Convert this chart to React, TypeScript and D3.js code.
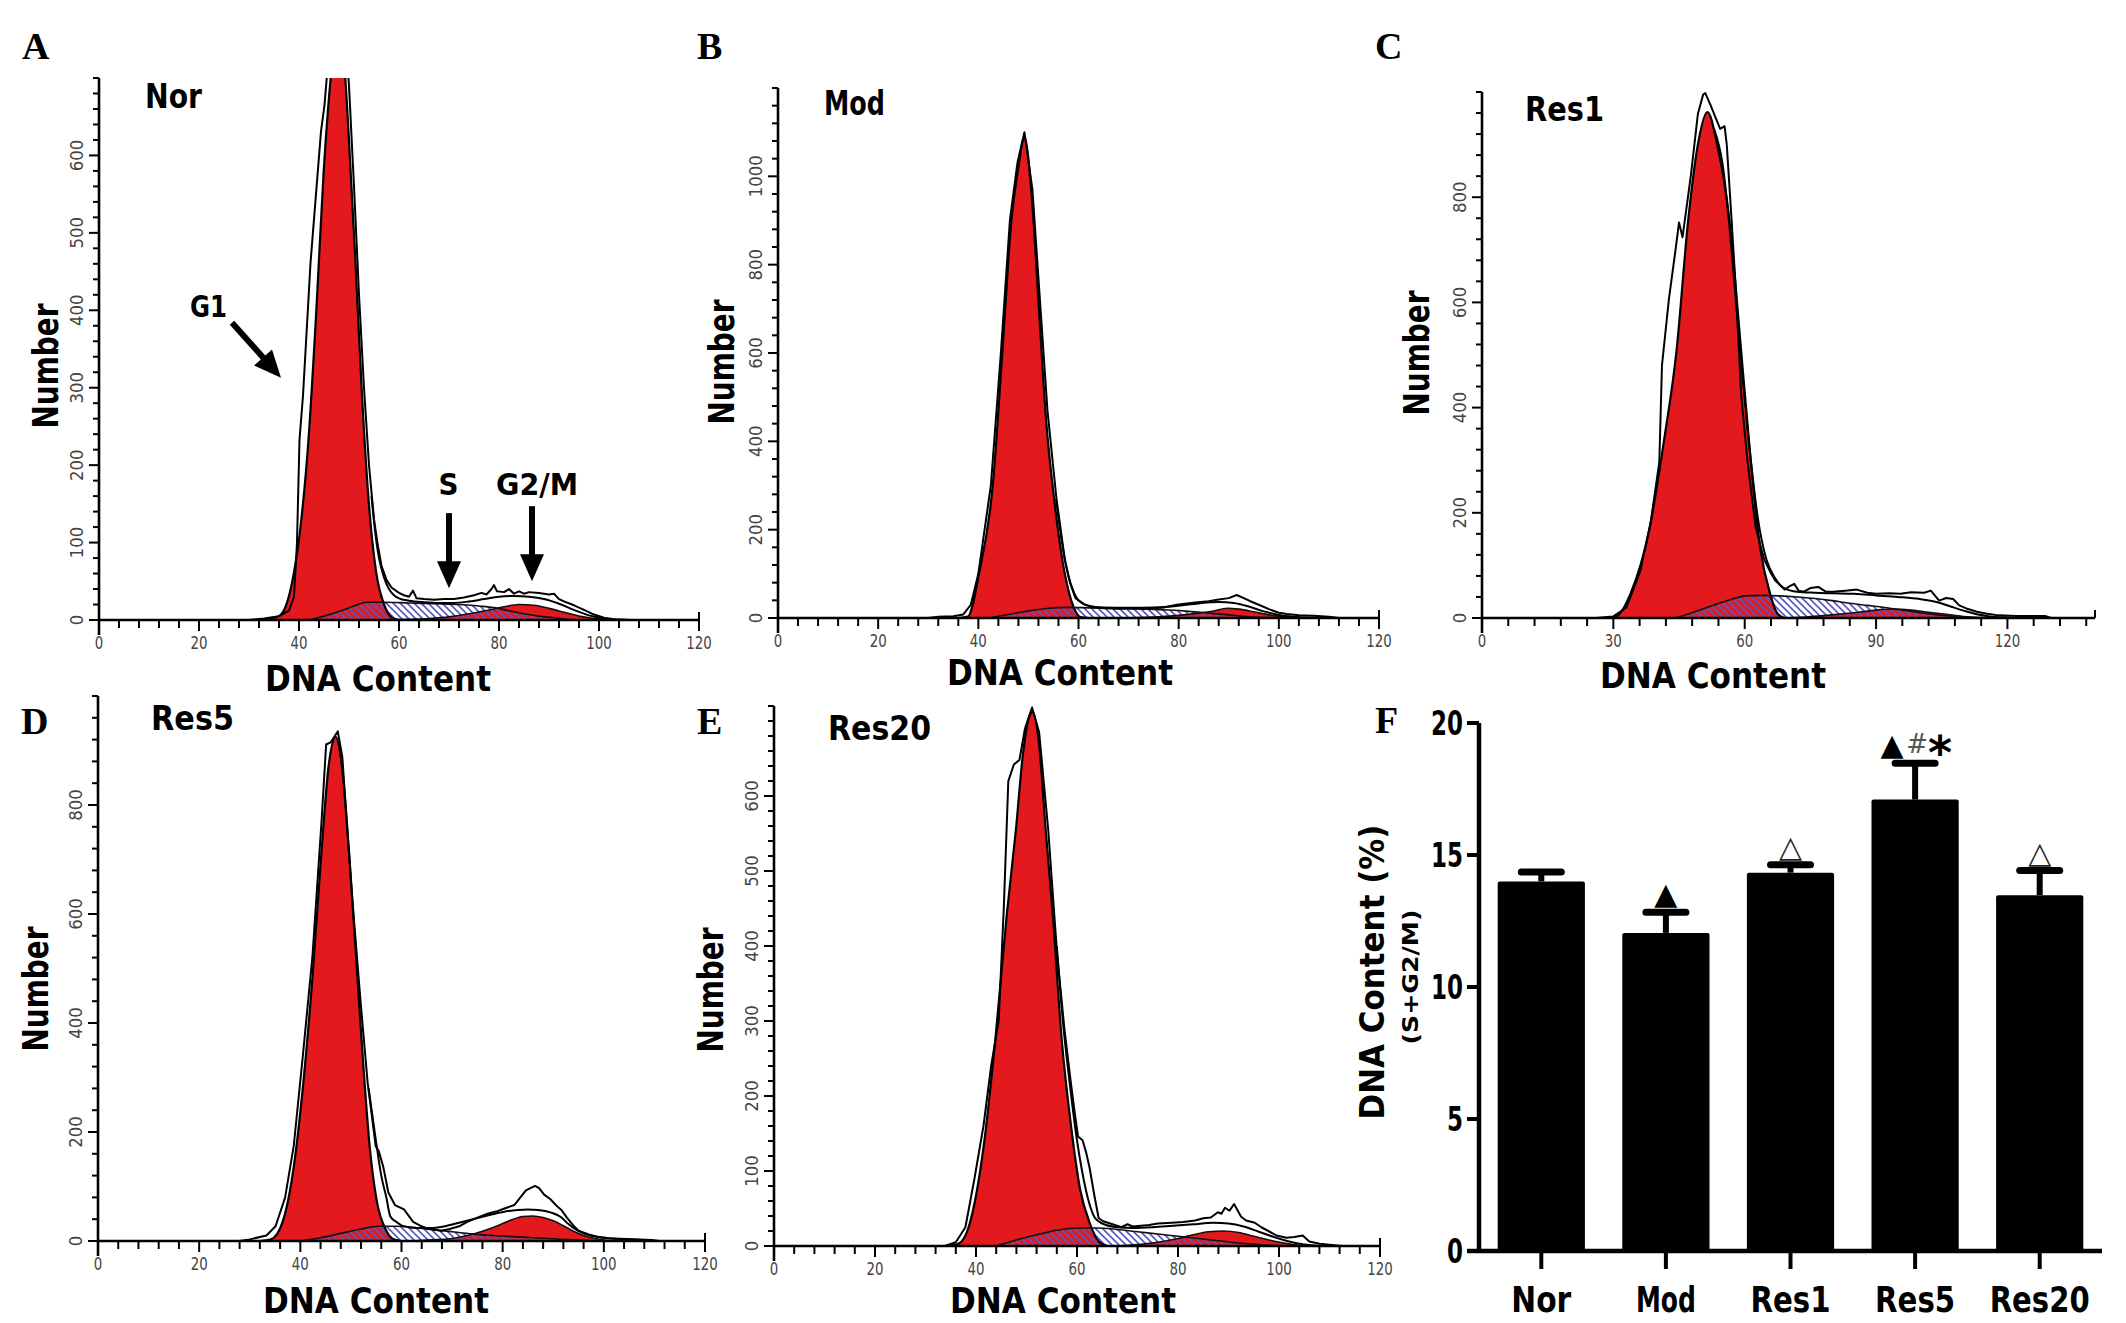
import React from 'react';
import * as d3 from 'd3';

type Pt = [number, number];

// ---------------- Panel F (bar chart) data ----------------
const groups = ['Nor', 'Mod', 'Res1', 'Res5', 'Res20'];
const meanValues = [14.0, 12.05, 14.33, 17.1, 13.48];
const semValues = [0.36, 0.78, 0.3, 1.38, 0.93];
const sigMarks = ['', '▲', '△', '▲#*', '△'];
const fTicks = [0, 5, 10, 15, 20];

// ---------------- Histogram tick labels ----------------
const xTicks120 = [0, 20, 40, 60, 80, 100, 120];
const xTicksC = [0, 30, 60, 90, 120];
const yTicksA = [0, 100, 200, 300, 400, 500, 600];
const yTicksB = [0, 200, 400, 600, 800, 1000];
const yTicksC = [0, 200, 400, 600, 800];
const yTicksD = [0, 200, 400, 600, 800];
const yTicksE = [0, 100, 200, 300, 400, 500, 600];

// ---------------- Panel A (Nor) ----------------
const g1A: Pt[] = [[32,0],[34,1],[36.2,6],[38.5,45],[40.3,120],[41.9,233],[43.5,404],[44.9,575],[46.3,697],[47.7,770],[49.2,705],[49.9,631],[51.3,461],[52.6,290],[54,148],[55.4,63],[57.2,17],[58.6,3],[60,0]];
const sA: Pt[] = [[42,0],[45,5],[48,11],[51,18],[53.6,23],[57,23],[62,22],[67,21],[72,20],[76,18],[79,16],[82,12],[85,8],[88,5],[91,3],[95,0]];
const g2A: Pt[] = [[58,0],[62,1],[66,2],[70,4],[74,8],[78,13],[81,17],[84,20],[87,19],[90,15],[93,10],[96,5],[99,2],[102,1],[105,0.5],[107,0]];
const rawA: Pt[] = [[30,0],[33,2],[36,5],[38,12],[39,30],[39.6,100],[40.1,233],[40.8,290],[42.3,461],[44.4,631],[45.1,665],[45.8,720],[47.7,785],[49.4,740],[50,690],[51,560],[52,420],[53,300],[54,200],[55,130],[55.8,95],[56.5,70],[57.5,52],[58.5,42],[60,35],[61,32],[62,30],[62.8,38],[63.5,28],[65,27],[67,26],[69,27],[71,27],[73,29],[75,32],[76.5,35],[77.5,33],[78.5,40],[79,45],[79.6,37],[81,36],[82,40],[83,34],[84,37],[85,34],[86,36],[88,35],[90,33],[91,34],[92,27],[93,24],[95,19],[97,13],[99,7],[101,3],[103,1],[106,0]];
const fitA: Pt[] = [[54.5,160],[55.3,110],[56,80],[57,55],[58,40],[59,32],[60,28],[62,25],[65,23],[68,22],[71,22],[74,24],[77,27],[80,30],[83,31],[86,30],[89,27],[92,21],[95,13],[98,6],[101,2],[104,0]];

// ---------------- Panel B (Mod) ----------------
const g1B: Pt[] = [[36,0],[37.9,3],[40.2,104],[42.9,303],[44.8,602],[46.6,900],[48,1020],[49.2,1088],[50.7,950],[52.1,701],[53.5,453],[55.3,254],[57.2,104],[59,25],[60.4,2],[62,0]];
const sB: Pt[] = [[42,0],[46,8],[50,16],[54,22],[58,24],[62,23],[66,22],[70,21],[74,20],[78,18],[82,15],[86,11],[90,7],[94,3],[98,1],[102,0]];
const g2B: Pt[] = [[66,0],[72,1],[76,3],[80,6],[84,11],[87,16],[89.7,22],[92,20],[95,14],[98,7],[101,3],[104,1],[107,0]];
const rawB: Pt[] = [[30,0],[32,3],[35,4],[37,8],[38.5,30],[40,100],[42.5,300],[44.5,600],[46.3,900],[47.8,1030],[49.2,1100],[50.8,970],[52.3,720],[53.8,470],[55.6,270],[57.3,130],[58.3,80],[59.4,45],[61.3,30],[63,24],[65,22],[68,21],[71,22],[74,21],[77,24],[79.6,30],[83.3,35],[86,38],[88,42],[90,45],[91.6,52],[93,45],[94.3,38],[96,30],[98,20],[100,12],[101.6,9],[104,6],[107,5],[110,3],[112,0]];
const fitB: Pt[] = [[55.5,270],[57,150],[58,95],[59,60],[60,40],[62,28],[65,24],[70,23],[75,24],[80,28],[84,33],[88,36],[91,34],[94,26],[97,15],[100,7],[103,3],[106,1],[110,0]];

// ---------------- Panel C (Res1) ----------------
const g1C: Pt[] = [[28,0],[30.6,3],[33.9,46],[38.3,172],[41.6,339],[44.4,506],[47.1,757],[49.3,900],[51.5,962],[53.7,900],[56.5,757],[59.2,506],[61.4,297],[63.6,130],[65.8,46],[67.5,8],[69,0]];
const sC: Pt[] = [[44,0],[48,10],[52,22],[56,33],[60.3,42],[64,43],[68,42],[72,40],[76,37],[80,33],[84,28],[88,24],[92,20],[96,15],[100,10],[104,6],[108,3],[112,1],[116,0]];
const g2C: Pt[] = [[68,0],[74,2],[80,6],[86,11],[90,15],[94,17],[98,15],[102,11],[106,7],[110,3],[114,1],[118,0]];
const rawC: Pt[] = [[26,0],[30,3],[33,20],[36.1,88],[38.5,180],[40.5,297],[41.1,480],[42.7,607],[44.2,700],[45,752],[45.8,724],[47.7,841],[49.3,958],[50.5,995],[51,998],[52.2,975],[53.2,954],[54.4,930],[55.4,935],[55.9,900],[57,757],[58,620],[59.2,423],[60.6,300],[62.5,172],[64.5,110],[66,85],[67,71],[69.1,54],[70.2,60],[71.3,65],[72.3,52],[73.5,50],[75,57],[76.8,59],[78.5,50],[80.1,50],[83,52],[85.6,54],[88,48],[90,46],[93,47],[95.6,46],[98,49],[101,48],[102.5,52],[104.4,33],[106,38],[107.6,36],[109,24],[111,17],[113,12],[115.4,8],[118,5],[122,4],[128.6,4],[130,0]];
const fitC: Pt[] = [[53,930],[55,860],[57,700],[59,500],[61,330],[63,190],[65,110],[67,75],[69,57],[72,50],[76,48],[80,47],[85,46],[90,43],[95,40],[100,36],[104,30],[107,22],[110,14],[113,7],[116,3],[120,1],[124,0]];

// ---------------- Panel D (Res5) ----------------
const g1D: Pt[] = [[32,0],[34.2,3],[36.5,35],[38.7,136],[40.6,291],[42.4,484],[44.2,717],[45.6,872],[47,925],[48.3,864],[49.6,717],[51,523],[52.4,329],[53.7,174],[55.1,74],[57,19],[58.7,2],[60,0]];
const sD: Pt[] = [[40,0],[44,6],[48,14],[52,22],[55.5,27],[59,27],[63,24],[67,20],[70,17],[74,13],[78,10],[82,8],[86,6],[90,4],[94,2],[98,0.5],[100,0]];
const g2D: Pt[] = [[62,0],[66,2],[69.6,4],[73,10],[76,18],[79,28],[81.5,38],[84,45],[86,46],[88,43],[90,37],[92,28],[94,18],[96,10],[98.6,4],[101,1],[104,0]];
const rawD: Pt[] = [[27.9,0],[30,3],[33.3,10],[35.1,27],[37,80],[38.7,175],[40.5,340],[42.4,523],[44.2,771],[45.1,911],[46,915],[47.4,935],[48.3,888],[49.4,740],[50.5,601],[51.9,440],[53.3,291],[54.9,174],[55.5,165],[56.4,136],[57.4,89],[58.7,66],[60.5,58],[62.3,35],[63.7,28],[65.1,23],[67.8,19],[69.5,22],[71.4,27],[73,35],[75,43],[77,50],[78.7,54],[80.5,60],[82.3,66],[83.5,80],[84.6,93],[86.4,101],[87.2,97],[88.2,85],[89.4,77],[90.5,66],[91.6,57],[92.7,43],[94,28],[95,19],[97,12],[98.6,8],[101,5],[103,4],[106,3],[109.5,2],[111,0]];
const fitD: Pt[] = [[53.5,280],[55,180],[56,120],[57,80],[57.8,45],[59,35],[60.5,27],[63,24],[66,24],[69,28],[72,35],[75,42],[78,49],[80.5,54],[83,57],[85,58],[87,57],[89.6,52],[91.5,44],[93,31],[95,18],[97,11],[100,6],[104,3],[108,1],[110,0]];

// ---------------- Panel E (Res20) ----------------
const g1E: Pt[] = [[34,0],[36.5,3],[38.8,31],[41.5,132],[43.8,273],[46.1,442],[47.9,555],[49.3,656],[50.6,707],[51.2,712],[52.5,668],[53.8,555],[55.2,442],[57,273],[58.8,161],[60.6,76],[62.5,31],[64.3,6],[66,0]];
const sE: Pt[] = [[44,0],[48,8],[52,15],[56,21],[60,24],[64,24],[68,22],[72,19],[76,16],[80,13],[84,10],[88,7],[92,4],[96,2],[100,0.5],[102,0]];
const g2E: Pt[] = [[68,0],[72,2],[76,5],[80,10],[83,15],[86,19],[89,20],[92,18],[95,13],[98,8],[101,4],[104,1],[107,0]];
const rawE: Pt[] = [[33.8,0],[36,5],[37.9,25],[39.7,90],[41.5,161],[43,240],[44.5,301],[45.5,450],[46.4,620],[47.5,642],[48.6,648],[49.7,690],[51.1,718],[52.5,685],[53.4,620],[54.3,555],[55.2,470],[56.1,386],[57.5,290],[58.8,217],[59.6,175],[60.2,146],[61.1,141],[61.8,125],[62.5,104],[63.5,65],[64.3,37],[65.2,33],[66.1,31],[67.5,28],[68.8,25],[70,29],[71,26],[74.3,28],[76,30],[78.8,31],[81,32],[83.4,34],[85,37],[86.5,38],[87.9,45],[88.6,43],[89.3,51],[90.2,47],[91.1,56],[92.5,39],[93.5,34],[95.2,31],[96.5,25],[97.9,20],[99.5,14],[101.5,11],[103,12],[104.7,14],[106,6],[108,3],[112.5,0]];
const fitE: Pt[] = [[56,400],[57.2,300],[58.5,220],[59.8,150],[61,100],[62.3,60],[63.5,38],[65,30],[68,25],[71,24],[75,25],[79,27],[83,29],[87,31],[90,30],[93,26],[96,19],[99,12],[102,6],[105,2],[108,0]];

// ---------------- Panel A annotations (data units) ----------------
const annotationsA = [
  { label: 'G1', tx: 21.9, ty: 391, from: [26.6, 384] as Pt, to: [36.4, 313] as Pt, len: 37 },
  { label: 'S', tx: 69.9, ty: 161, from: [70, 138] as Pt, to: [70, 41] as Pt, len: 20 },
  { label: 'G2/M', tx: 87.6, ty: 161, from: [86.6, 147] as Pt, to: [86.6, 50] as Pt, len: 82 },
];

// ---------------- Panel definitions ----------------
const panels = [
  { key: 'A', sample: 'Nor', g1: g1A, s: sA, g2: g2A, raw: rawA, fit: fitA, xMax: 120, xLabels: xTicks120, xMinor: 4, yMax: 700, yLabels: yTicksA, yMinor: 20 },
  { key: 'B', sample: 'Mod', g1: g1B, s: sB, g2: g2B, raw: rawB, fit: fitB, xMax: 120, xLabels: xTicks120, xMinor: 4, yMax: 1200, yLabels: yTicksB, yMinor: 40 },
  { key: 'C', sample: 'Res1', g1: g1C, s: sC, g2: g2C, raw: rawC, fit: fitC, xMax: 140, xLabels: xTicksC, xMinor: 6, yMax: 1000, yLabels: yTicksC, yMinor: 40 },
  { key: 'D', sample: 'Res5', g1: g1D, s: sD, g2: g2D, raw: rawD, fit: fitD, xMax: 120, xLabels: xTicks120, xMinor: 4, yMax: 1000, yLabels: yTicksD, yMinor: 40 },
  { key: 'E', sample: 'Res20', g1: g1E, s: sE, g2: g2E, raw: rawE, fit: fitE, xMax: 120, xLabels: xTicks120, xMinor: 4, yMax: 720, yLabels: yTicksE, yMinor: 20 },
];

// ---------------- Layout (pixels) ----------------
const layouts: Record<string, any> = {
  A: { x0: 99, x1: 699, y0: 620, yTop: 78, letter: [22, 59], sample: [145, 108, 57], number: [45, 366], dna: [378, 691] },
  B: { x0: 778, x1: 1379, y0: 618, yTop: 88, letter: [697, 59], sample: [824, 115, 61], number: [721, 362], dna: [1060, 685] },
  C: { x0: 1482, x1: 2095, y0: 618, yTop: 92, letter: [1375, 59], sample: [1525, 121, 79], number: [1416, 353], dna: [1713, 688] },
  D: { x0: 98, x1: 705, y0: 1241, yTop: 696, letter: [21, 734], sample: [151, 730, 83], number: [35, 989], dna: [376, 1313] },
  E: { x0: 774, x1: 1380, y0: 1246, yTop: 706, letter: [697, 734], sample: [828, 740, 103], number: [710, 990], dna: [1063, 1313] },
};

const GOTHIC = "'DejaVu Sans', 'Liberation Sans', sans-serif";
const COND = "'DejaVu Sans Condensed', 'DejaVu Sans', sans-serif";
const SERIF = "'Liberation Serif', 'DejaVu Serif', serif";
const RED = '#e3191e';
const ADJ = 'spacingAndGlyphs';

function Arrow({ from, to }: { from: [number, number]; to: [number, number] }) {
  const dx = to[0] - from[0];
  const dy = to[1] - from[1];
  const d = Math.hypot(dx, dy);
  const ux = dx / d, uy = dy / d;
  const headL = 27, headW = 12;
  const bx = to[0] - ux * headL, by = to[1] - uy * headL;
  const px = -uy, py = ux;
  return (
    <g>
      <line x1={from[0]} y1={from[1]} x2={bx + ux * 2} y2={by + uy * 2} stroke="#000" strokeWidth={6} />
      <path d={`M${to[0]},${to[1]} L${bx + px * headW},${by + py * headW} L${bx - px * headW},${by - py * headW} Z`} fill="#000" />
    </g>
  );
}

function Hist({ p }: { p: any }) {
  const L = layouts[p.key];
  const x = d3.scaleLinear().domain([0, p.xMax]).range([L.x0, L.x1]);
  const y = d3.scaleLinear().domain([0, p.yMax]).range([L.y0, L.yTop]);
  const area = d3.area<Pt>().x((d) => x(d[0])).y0(y(0)).y1((d) => y(d[1])).curve(d3.curveMonotoneX);
  const smooth = d3.line<Pt>().x((d) => x(d[0])).y((d) => y(d[1])).curve(d3.curveMonotoneX);
  const jag = d3.line<Pt>().x((d) => x(d[0])).y((d) => y(d[1]));
  const clipId = `clip-${p.key}`;
  const xMinorTicks = d3.range(0, p.xMax + 0.001, p.xMinor);
  const yMinorTicks = d3.range(0, p.yMax + 0.001, p.yMinor);
  return (
    <g>
      <defs>
        <clipPath id={clipId}>
          <rect x={L.x0} y={L.yTop} width={L.x1 - L.x0} height={L.y0 - L.yTop} />
        </clipPath>
      </defs>
      <g clipPath={`url(#${clipId})`}>
        <path d={area(p.g1) || ''} fill={RED} />
        <path d={area(p.g2) || ''} fill={RED} />
        <path d={area(p.s) || ''} fill="url(#hatch)" />
        <path d={smooth(p.g1) || ''} fill="none" stroke="#000" strokeWidth={2.2} />
        <path d={smooth(p.s) || ''} fill="none" stroke="#111" strokeWidth={1.6} />
        <path d={smooth(p.g2) || ''} fill="none" stroke="#111" strokeWidth={1.6} />
        <path d={smooth(p.fit) || ''} fill="none" stroke="#000" strokeWidth={2} />
        <path d={jag(p.raw) || ''} fill="none" stroke="#000" strokeWidth={2} strokeLinejoin="round" />
      </g>
      {/* axes */}
      <line x1={L.x0} x2={L.x0} y1={L.yTop} y2={L.y0 + 15} stroke="#000" strokeWidth={2.6} />
      <line x1={L.x0} x2={L.x1} y1={L.y0} y2={L.y0} stroke="#000" strokeWidth={2.6} />
      <line x1={L.x1} x2={L.x1} y1={L.y0 - 8} y2={L.y0} stroke="#000" strokeWidth={2} />
      {xMinorTicks.map((t) => (
        <line key={`xm${t}`} x1={x(t)} x2={x(t)} y1={L.y0} y2={L.y0 + (p.xLabels.includes(t) ? 11 : 8)} stroke="#000" strokeWidth={2} />
      ))}
      {yMinorTicks.map((t) => (
        <line key={`ym${t}`} x1={L.x0 - (p.yLabels.includes(t) ? 10 : 6)} x2={L.x0} y1={y(t)} y2={y(t)} stroke="#000" strokeWidth={2} />
      ))}
      {p.xLabels.map((t: number) => (
        <text key={`xl${t}`} x={x(t)} y={L.y0 + 23} dy="0.36em" textAnchor="middle" fontFamily={COND} fontSize={18} fill="#444"
          textLength={String(t).length * 8.5} lengthAdjust={ADJ}>{t}</text>
      ))}
      {p.yLabels.map((t: number) => (
        <text key={`yl${t}`} transform={`translate(${L.x0 - 22},${y(t)}) rotate(-90)`} dy="0.36em" textAnchor="middle" fontFamily={COND}
          fontSize={18} fill="#444" textLength={String(t).length * 10.5} lengthAdjust={ADJ}>{t}</text>
      ))}
      {/* labels */}
      <text x={L.letter[0]} y={L.letter[1]} fontFamily={SERIF} fontWeight="bold" fontSize={38} fill="#000">{p.key}</text>
      <text x={L.sample[0]} y={L.sample[1]} fontFamily={GOTHIC} fontWeight="bold" fontSize={33} fill="#000"
        textLength={L.sample[2]} lengthAdjust={ADJ}>{p.sample}</text>
      <text transform={`translate(${L.number[0]},${L.number[1]}) rotate(-90)`} dy="0.36em" textAnchor="middle" fontFamily={GOTHIC}
        fontWeight="bold" fontSize={36} fill="#000" textLength={125} lengthAdjust={ADJ}>Number</text>
      <text x={L.dna[0]} y={L.dna[1]} textAnchor="middle" fontFamily={GOTHIC} fontWeight="bold" fontSize={35} fill="#000"
        textLength={226} lengthAdjust={ADJ}>DNA Content</text>
      {p.key === 'A' && annotationsA.map((a) => (
        <g key={a.label}>
          <text x={x(a.tx)} y={y(a.ty)} textAnchor="middle" fontFamily={GOTHIC} fontWeight="bold" fontSize={30} fill="#000"
            textLength={a.len} lengthAdjust={ADJ}>{a.label}</text>
          <Arrow from={[x(a.from[0]), y(a.from[1])]} to={[x(a.to[0]), y(a.to[1])]} />
        </g>
      ))}
    </g>
  );
}

function BarPanel() {
  const L = { x0: 1479, x1: 2102, y0: 1251, yTop: 723 };
  const xb = d3.scaleBand().domain(groups).range([L.x0, L.x1]).paddingInner(0.3).paddingOuter(0.15);
  const y = d3.scaleLinear().domain([0, 20]).range([L.y0, L.yTop]);
  const bw = xb.bandwidth();
  return (
    <g>
      {groups.map((g, i) => {
        const bx = xb(g) as number;
        const cx = bx + bw / 2;
        const top = y(meanValues[i]);
        const capY = y(meanValues[i] + semValues[i]);
        const m = sigMarks[i];
        const mBase = capY - 8;
        return (
          <g key={g}>
            <line x1={cx} x2={cx} y1={top} y2={capY} stroke="#000" strokeWidth={6} />
            <line x1={cx - 20} x2={cx + 20} y1={capY} y2={capY} stroke="#000" strokeWidth={7} strokeLinecap="round" />
            <rect x={bx} y={top} width={bw} height={L.y0 - top} fill="#000" rx={2} />
            {m === '▲' && (
              <text x={cx} y={mBase} textAnchor="middle" fontFamily="'DejaVu Sans'" fontSize={30} fill="#000">▲</text>
            )}
            {m === '△' && (
              <text x={cx} y={mBase} textAnchor="middle" fontFamily="'DejaVu Sans'" fontSize={30} fill="#222">△</text>
            )}
            {m === '▲#*' && (
              <g>
                <text x={cx - 23} y={mBase} textAnchor="middle" fontFamily="'DejaVu Sans'" fontSize={30} fill="#000">▲</text>
                <text x={cx + 2} y={mBase - 2} textAnchor="middle" fontFamily="'DejaVu Sans'" fontSize={26} fill="#555">#</text>
                <text x={cx + 25} y={mBase + 14} textAnchor="middle" fontFamily="'DejaVu Sans'" fontWeight="bold" fontSize={46} fill="#000">*</text>
              </g>
            )}
            <line x1={cx} x2={cx} y1={L.y0} y2={L.y0 + 18} stroke="#000" strokeWidth={4} />
            <text x={cx} y={1312} textAnchor="middle" fontFamily={GOTHIC} fontWeight="bold" fontSize={36} fill="#000"
              textLength={g.length * 20} lengthAdjust={ADJ}>{g}</text>
          </g>
        );
      })}
      <line x1={L.x0} x2={L.x0} y1={L.yTop} y2={L.y0 + 2} stroke="#000" strokeWidth={4.5} />
      <line x1={L.x0 - 12} x2={L.x1} y1={L.y0} y2={L.y0} stroke="#000" strokeWidth={4.5} />
      {fTicks.map((t) => (
        <g key={t}>
          <line x1={L.x0 - 12} x2={L.x0} y1={y(t)} y2={y(t)} stroke="#000" strokeWidth={4} />
          <text x={L.x0 - 16} y={y(t)} dy="0.36em" textAnchor="end" fontFamily={GOTHIC} fontWeight="bold" fontSize={34} fill="#000"
            textLength={String(t).length * 16} lengthAdjust={ADJ}>{t}</text>
        </g>
      ))}
      <text transform={`translate(1372,972) rotate(-90)`} dy="0.36em" textAnchor="middle" fontFamily={GOTHIC} fontWeight="bold"
        fontSize={33} fill="#000" textLength={295} lengthAdjust={ADJ}>DNA Content (%)</text>
      <text transform={`translate(1410,977) rotate(-90)`} dy="0.36em" textAnchor="middle" fontFamily={GOTHIC} fontWeight="bold"
        fontSize={21} fill="#000" textLength={135} lengthAdjust={ADJ}>(S+G2/M)</text>
      <text x={1375} y={733} fontFamily={SERIF} fontWeight="bold" fontSize={38} fill="#000">F</text>
    </g>
  );
}

export default function App() {
  return (
    <svg width={2126} height={1323} viewBox="0 0 2126 1323" style={{ position: 'absolute', left: 0, top: 0, display: 'block', background: '#fff' }}>
      <defs>
        <pattern id="hatch" patternUnits="userSpaceOnUse" width={7} height={7}>
          <path d="M-1,-1 L8,8 M-8,-1 L1,8 M6,-1 L15,8" stroke="#5656c4" strokeWidth={1.6} />
        </pattern>
      </defs>
      <rect x={0} y={0} width={2126} height={1323} fill="#fff" />
      {panels.map((p) => (
        <Hist key={p.key} p={p} />
      ))}
      <BarPanel />
    </svg>
  );
}
